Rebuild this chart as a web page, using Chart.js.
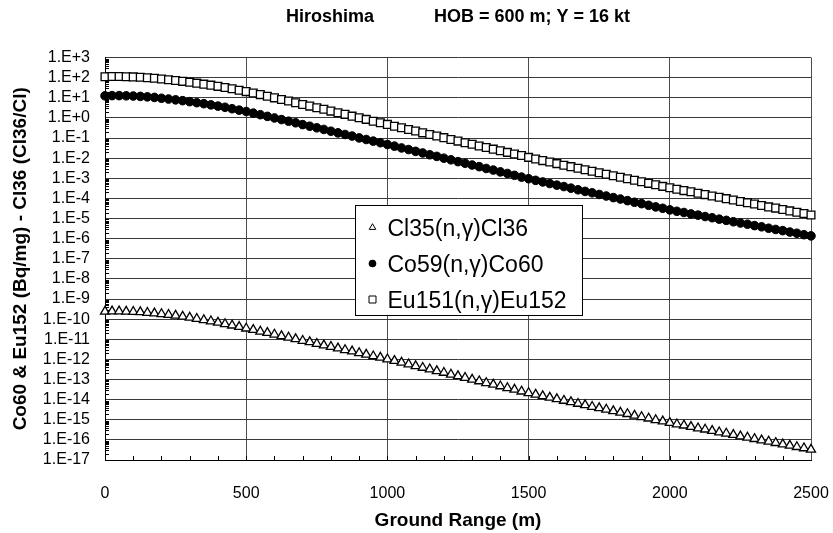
<!DOCTYPE html>
<html>
<head>
<meta charset="utf-8">
<script src="https://cdn.jsdelivr.net/npm/chart.js@4.4.1/dist/chart.umd.min.js"></script>
<style>
  html, body { margin: 0; padding: 0; background: #fff; }
  #wrap { width: 833px; height: 533px; }
</style>
</head>
<body>
<div id="wrap"><canvas id="activityChart" width="833" height="533"></canvas></div>
<script>
// ground range (m), one point every 25 m
const rangeM = [
  0, 25, 50, 75, 100, 125, 150, 175, 200, 225,
  250, 275, 300, 325, 350, 375, 400, 425, 450, 475,
  500, 525, 550, 575, 600, 625, 650, 675, 700, 725,
  750, 775, 800, 825, 850, 875, 900, 925, 950, 975,
  1000, 1025, 1050, 1075, 1100, 1125, 1150, 1175, 1200, 1225,
  1250, 1275, 1300, 1325, 1350, 1375, 1400, 1425, 1450, 1475,
  1500, 1525, 1550, 1575, 1600, 1625, 1650, 1675, 1700, 1725,
  1750, 1775, 1800, 1825, 1850, 1875, 1900, 1925, 1950, 1975,
  2000, 2025, 2050, 2075, 2100, 2125, 2150, 2175, 2200, 2225,
  2250, 2275, 2300, 2325, 2350, 2375, 2400, 2425, 2450, 2475,
  2500
];

// Cl36/Cl atom ratio
const cl36 = [
  2.40e-10, 2.45e-10, 2.45e-10, 2.40e-10, 2.34e-10, 2.24e-10, 2.09e-10, 1.95e-10, 1.82e-10, 1.66e-10,
  1.51e-10, 1.35e-10, 1.20e-10, 1.05e-10, 9.12e-11, 7.94e-11, 6.76e-11, 5.75e-11, 4.90e-11, 4.17e-11,
  3.47e-11, 2.95e-11, 2.45e-11, 2.09e-11, 1.74e-11, 1.45e-11, 1.23e-11, 1.02e-11, 8.51e-12, 7.24e-12,
  6.03e-12, 5.01e-12, 4.27e-12, 3.55e-12, 2.95e-12, 2.51e-12, 2.09e-12, 1.74e-12, 1.45e-12, 1.23e-12,
  1.02e-12, 8.51e-13, 6.92e-13, 5.75e-13, 4.68e-13, 3.89e-13, 3.24e-13, 2.63e-13, 2.19e-13, 1.78e-13,
  1.48e-13, 1.23e-13, 1.00e-13, 8.32e-14, 6.76e-14, 5.62e-14, 4.68e-14, 3.80e-14, 3.16e-14, 2.57e-14,
  2.14e-14, 1.78e-14, 1.51e-14, 1.26e-14, 1.07e-14, 8.91e-15, 7.59e-15, 6.31e-15, 5.37e-15, 4.47e-15,
  3.80e-15, 3.24e-15, 2.69e-15, 2.29e-15, 1.95e-15, 1.62e-15, 1.38e-15, 1.17e-15, 9.77e-16, 8.32e-16,
  7.08e-16, 6.03e-16, 5.25e-16, 4.47e-16, 3.80e-16, 3.31e-16, 2.82e-16, 2.40e-16, 2.09e-16, 1.78e-16,
  1.51e-16, 1.32e-16, 1.12e-16, 9.55e-17, 8.32e-17, 7.08e-17, 6.03e-17, 5.25e-17, 4.47e-17, 3.89e-17,
  3.31e-17
];

// Co60 specific activity (Bq/mg)
const co60 = [
  1.26e1, 1.29e1, 1.29e1, 1.26e1, 1.23e1, 1.18e1, 1.12e1, 1.05e1, 9.55, 8.71,
  7.94, 7.24, 6.46, 5.75, 5.13, 4.47, 3.89, 3.39, 2.88, 2.45,
  2.09, 1.74, 1.45, 1.20, 1.00, 8.32e-1, 6.92e-1, 5.75e-1, 4.68e-1, 3.89e-1,
  3.24e-1, 2.69e-1, 2.19e-1, 1.82e-1, 1.51e-1, 1.26e-1, 1.02e-1, 8.51e-2, 7.08e-2, 5.89e-2,
  4.79e-2, 3.98e-2, 3.24e-2, 2.69e-2, 2.19e-2, 1.82e-2, 1.48e-2, 1.23e-2, 1.00e-2, 8.32e-3,
  6.76e-3, 5.62e-3, 4.57e-3, 3.80e-3, 3.09e-3, 2.57e-3, 2.09e-3, 1.74e-3, 1.41e-3, 1.15e-3,
  9.55e-4, 7.94e-4, 6.61e-4, 5.50e-4, 4.57e-4, 3.89e-4, 3.24e-4, 2.69e-4, 2.24e-4, 1.91e-4,
  1.58e-4, 1.32e-4, 1.10e-4, 9.33e-5, 7.76e-5, 6.46e-5, 5.50e-5, 4.57e-5, 3.80e-5, 3.24e-5,
  2.69e-5, 2.29e-5, 2.00e-5, 1.70e-5, 1.48e-5, 1.26e-5, 1.10e-5, 9.33e-6, 8.13e-6, 6.92e-6,
  6.03e-6, 5.25e-6, 4.47e-6, 3.89e-6, 3.31e-6, 2.88e-6, 2.51e-6, 2.14e-6, 1.86e-6, 1.58e-6,
  1.38e-6
];

// Eu152 specific activity (Bq/mg)
const eu152 = [
  1.12e2, 1.15e2, 1.15e2, 1.12e2, 1.10e2, 1.05e2, 1.00e2, 9.33e1, 8.71e1, 7.94e1,
  7.24e1, 6.61e1, 6.03e1, 5.37e1, 4.79e1, 4.27e1, 3.72e1, 3.24e1, 2.82e1, 2.40e1,
  2.04e1, 1.74e1, 1.45e1, 1.20e1, 1.00e1, 8.32, 6.92, 5.75, 4.68, 3.89,
  3.24, 2.69, 2.19, 1.82, 1.51, 1.23, 1.02, 8.51e-1, 6.92e-1, 5.75e-1,
  4.79e-1, 3.89e-1, 3.24e-1, 2.69e-1, 2.24e-1, 1.82e-1, 1.51e-1, 1.26e-1, 1.05e-1, 8.51e-2,
  7.08e-2, 5.89e-2, 4.90e-2, 4.07e-2, 3.39e-2, 2.82e-2, 2.34e-2, 1.95e-2, 1.62e-2, 1.35e-2,
  1.10e-2, 9.12e-3, 7.59e-3, 6.46e-3, 5.37e-3, 4.47e-3, 3.80e-3, 3.16e-3, 2.69e-3, 2.24e-3,
  1.91e-3, 1.58e-3, 1.35e-3, 1.12e-3, 9.55e-4, 7.94e-4, 6.76e-4, 5.62e-4, 4.79e-4, 3.98e-4,
  3.39e-4, 2.88e-4, 2.45e-4, 2.14e-4, 1.82e-4, 1.55e-4, 1.32e-4, 1.15e-4, 9.77e-5, 8.32e-5,
  7.08e-5, 6.17e-5, 5.25e-5, 4.47e-5, 3.80e-5, 3.31e-5, 2.82e-5, 2.40e-5, 2.04e-5, 1.78e-5,
  1.51e-5
];

const xTickValues = [0, 500, 1000, 1500, 2000, 2500];
const xTickLabels = ['0', '500', '1000', '1500', '2000', '2500'];
const yTickValues = [
  1e-17, 1e-16, 1e-15, 1e-14, 1e-13, 1e-12, 1e-11, 1e-10, 1e-9, 1e-8, 1e-7,
  1e-6, 1e-5, 1e-4, 1e-3, 1e-2, 1e-1, 1e0, 1e1, 1e2, 1e3
];
const yTickLabels = [
  '1.E-17', '1.E-16', '1.E-15', '1.E-14', '1.E-13', '1.E-12', '1.E-11', '1.E-10', '1.E-9', '1.E-8', '1.E-7',
  '1.E-6', '1.E-5', '1.E-4', '1.E-3', '1.E-2', '1.E-1', '1.E+0', '1.E+1', '1.E+2', '1.E+3'
];

const FONT = '"Liberation Sans", Arial, sans-serif';

function toPoints(values) {
  return rangeM.map((x, i) => ({ x: x, y: values[i] }));
}

function drawMarker(ctx, style, x, y, r) {
  ctx.beginPath();
  if (style === 'triangle') {
    ctx.moveTo(x, y - r);
    ctx.lineTo(x + r * 0.866, y + r * 0.5);
    ctx.lineTo(x - r * 0.866, y + r * 0.5);
    ctx.closePath();
    ctx.fillStyle = '#fff';
    ctx.fill();
    ctx.stroke();
  } else if (style === 'circle') {
    ctx.arc(x, y, r, 0, Math.PI * 2);
    ctx.fillStyle = '#000';
    ctx.fill();
  } else {
    ctx.rect(x - r, y - r, r * 2, r * 2);
    ctx.fillStyle = '#fff';
    ctx.fill();
    ctx.stroke();
  }
}

// small inside ticks: log minors on the left axis, every 100 m on the bottom
const minorTicks = {
  id: 'minorTicks',
  beforeDatasetsDraw(chart) {
    const { ctx, scales: { x, y } } = chart;
    ctx.save();
    ctx.strokeStyle = '#000';
    ctx.lineWidth = 1;
    ctx.beginPath();
    for (let e = -17; e < 3; e++) {
      for (let k = 2; k <= 9; k++) {
        const py = Math.round(y.getPixelForValue(k * Math.pow(10, e))) + 0.5;
        ctx.moveTo(x.left, py);
        ctx.lineTo(x.left + 4, py);
      }
    }
    for (let m = 100; m < 2500; m += 100) {
      const px = Math.round(x.getPixelForValue(m)) + 0.5;
      ctx.moveTo(px, y.bottom);
      ctx.lineTo(px, y.bottom - 4);
    }
    ctx.stroke();
    ctx.restore();
  }
};

// boxed legend sitting inside the plot
const legendBox = {
  id: 'legendBox',
  afterDraw(chart) {
    const { ctx, chartArea } = chart;
    const x0 = Math.round(chartArea.left + 250) + 0.5;
    const y0 = Math.round(chartArea.top + 147) + 0.5;
    ctx.save();
    ctx.fillStyle = '#fff';
    ctx.fillRect(x0, y0, 227, 110);
    ctx.strokeStyle = '#000';
    ctx.lineWidth = 1;
    ctx.strokeRect(x0, y0, 227, 110);
    ctx.font = '23px ' + FONT;
    ctx.textBaseline = 'alphabetic';
    ctx.textAlign = 'left';
    chart.data.datasets.forEach((ds, i) => {
      const cy = y0 + 22 + i * 36;
      ctx.lineWidth = 1;
      ctx.strokeStyle = '#000';
      drawMarker(ctx, ds.pointStyle, x0 + 17, cy, ds.pointStyle === 'rect' ? 3.5 : 3.8);
      ctx.fillStyle = '#000';
      ctx.fillText(ds.label, x0 + 32, cy + 8.5);
    });
    ctx.restore();
  }
};

new Chart(document.getElementById('activityChart'), {
  type: 'scatter',
  data: {
    datasets: [
      {
        label: 'Cl35(n,\u03B3)Cl36',
        data: toPoints(cl36),
        pointStyle: 'triangle',
        pointRadius: 5.2,
        backgroundColor: '#fff',
        borderColor: '#000',
        borderWidth: 1.3,
        clip: false
      },
      {
        label: 'Co59(n,\u03B3)Co60',
        data: toPoints(co60),
        pointStyle: 'circle',
        pointRadius: 4.3,
        backgroundColor: '#000',
        borderColor: '#000',
        borderWidth: 1,
        clip: false
      },
      {
        label: 'Eu151(n,\u03B3)Eu152',
        data: toPoints(eu152),
        pointStyle: 'rect',
        pointRadius: 5.5,
        backgroundColor: '#fff',
        borderColor: '#000',
        borderWidth: 1.3,
        clip: false
      }
    ]
  },
  options: {
    responsive: false,
    animation: false,
    devicePixelRatio: 1,
    events: [],
    layout: { padding: { left: 0, right: 22, top: 0, bottom: 0 } },
    plugins: {
      legend: { display: false },
      tooltip: { enabled: false },
      title: {
        display: true,
        fullSize: false,
        text: 'Hiroshima            HOB = 600 m; Y = 16 kt',
        color: '#000',
        font: { family: FONT, size: 18, weight: 'bold' },
        padding: { top: 6, bottom: 30 }
      }
    },
    scales: {
      x: {
        type: 'linear',
        min: 0,
        max: 2500,
        afterBuildTicks: (scale) => { scale.ticks = xTickValues.map(v => ({ value: v })); },
        afterFit: (scale) => {
          scale.height = 73;
          scale.paddingLeft = 0;
          scale.paddingRight = 0;
        },
        ticks: {
          color: '#000',
          font: { family: FONT, size: 16 },
          padding: 24,
          maxRotation: 0,
          autoSkip: false,
          callback: (v, i) => xTickLabels[i]
        },
        grid: { color: '#4d4d4d', lineWidth: 1, drawTicks: false },
        border: { color: '#000', width: 1 },
        title: {
          display: true,
          text: 'Ground Range (m)',
          color: '#000',
          font: { family: FONT, size: 19, weight: 'bold' },
          padding: { top: 0, bottom: 1 }
        }
      },
      y: {
        type: 'logarithmic',
        min: 1e-17,
        max: 1e3,
        afterBuildTicks: (scale) => { scale.ticks = yTickValues.map(v => ({ value: v })); },
        afterFit: (scale) => {
          scale.width = 105;
          scale.paddingTop = 0;
          scale.paddingBottom = 0;
        },
        ticks: {
          color: '#000',
          font: { family: FONT, size: 16 },
          padding: 15,
          autoSkip: false,
          callback: (v, i) => yTickLabels[i]
        },
        grid: { color: '#3a3a3a', lineWidth: 1, drawTicks: false },
        border: { color: '#000', width: 1 },
        title: {
          display: true,
          text: 'Co60 & Eu152 (Bq/mg) - Cl36 (Cl36/Cl)',
          color: '#000',
          font: { family: FONT, size: 19, weight: 'bold' },
          padding: { top: 9, bottom: 0 }
        }
      }
    }
  },
  plugins: [minorTicks, legendBox]
});
</script>
</body>
</html>
